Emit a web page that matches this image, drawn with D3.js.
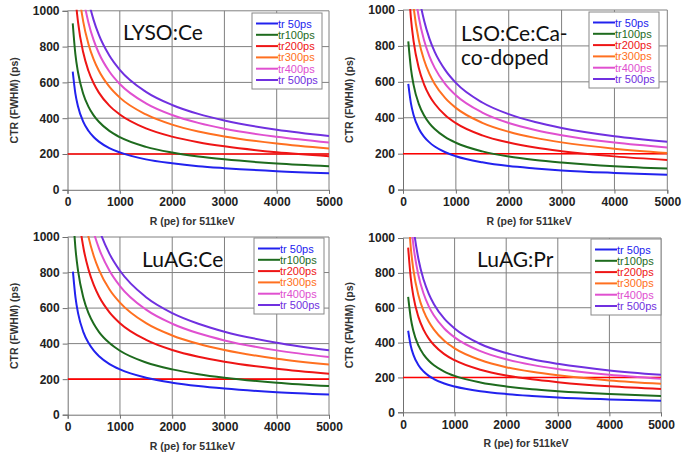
<!DOCTYPE html>
<html>
<head>
<meta charset="utf-8">
<script src="https://cdn.jsdelivr.net/npm/d3@7"></script>
<style>
  body { margin: 0; background: #fff; }
  svg { display: block; }
</style>
</head>
<body>
<script>
// photoelectrons R (pe) for 511keV
const R = [100, 150, 200, 300, 400, 500, 600, 800, 1000, 1500, 2000, 2500, 3000, 4000, 5000];

const series = ["tr 50ps", "tr100ps", "tr200ps", "tr300ps", "tr400ps", "tr 500ps"];
const colors = ["#2222ee", "#1e6b1e", "#ee1515", "#ff7020", "#e050d0", "#7030e0"];

const xTicks = [0, 1000, 2000, 3000, 4000, 5000];
const yTicks = [0, 200, 400, 600, 800, 1000];
const target = 200;

// CTR (FWHM) ps
const lyso = [
  [660, 539, 467, 381, 330, 295, 269, 233, 209, 170, 148, 132, 121, 104, 93],
  [930, 759, 658, 537, 465, 416, 380, 329, 294, 240, 208, 186, 170, 147, 132],
  [1330, 1086, 940, 768, 665, 595, 543, 470, 421, 343, 297, 266, 243, 210, 188],
  [1630, 1331, 1153, 941, 815, 729, 665, 576, 515, 421, 364, 326, 298, 258, 230],
  [1870, 1527, 1322, 1080, 935, 836, 763, 661, 591, 483, 418, 374, 341, 296, 264],
  [2120, 1731, 1499, 1224, 1060, 948, 865, 750, 670, 547, 474, 424, 387, 335, 300]
];
const lsoCa = [
  [588, 480, 416, 339, 294, 263, 240, 208, 186, 152, 131, 118, 107, 93, 83],
  [825, 674, 583, 476, 413, 369, 337, 292, 261, 213, 184, 165, 151, 130, 117],
  [1170, 955, 827, 676, 585, 523, 478, 414, 370, 302, 262, 234, 214, 185, 165],
  [1440, 1176, 1018, 831, 720, 644, 588, 509, 455, 372, 322, 288, 263, 228, 204],
  [1660, 1355, 1174, 958, 830, 742, 678, 587, 525, 429, 371, 332, 303, 262, 235],
  [1880, 1535, 1329, 1085, 940, 841, 767, 665, 594, 485, 420, 376, 343, 297, 266]
];
const luagCe = [
  [805, 657, 569, 465, 403, 360, 329, 285, 255, 208, 180, 161, 147, 127, 114],
  [1140, 931, 806, 658, 570, 510, 465, 403, 360, 294, 255, 228, 208, 180, 161],
  [1630, 1331, 1153, 941, 815, 729, 665, 576, 515, 421, 364, 326, 298, 258, 230],
  [1995, 1629, 1411, 1152, 998, 892, 814, 705, 631, 515, 446, 399, 364, 315, 282],
  [2290, 1870, 1619, 1322, 1145, 1024, 935, 810, 724, 591, 512, 458, 418, 362, 324],
  [2560, 2090, 1810, 1478, 1280, 1145, 1045, 905, 810, 661, 572, 512, 467, 405, 362]
];
const luagPr = [
  [468, 382, 331, 270, 234, 209, 191, 165, 148, 121, 105, 94, 85, 74, 66],
  [662, 541, 468, 382, 331, 296, 270, 234, 209, 171, 148, 132, 121, 105, 94],
  [945, 772, 668, 546, 473, 423, 386, 334, 299, 244, 211, 189, 173, 149, 134],
  [1160, 947, 820, 670, 580, 519, 474, 410, 367, 300, 259, 232, 212, 183, 164],
  [1360, 1110, 962, 785, 680, 608, 555, 481, 430, 351, 304, 272, 248, 215, 192],
  [1520, 1241, 1075, 878, 760, 680, 620, 537, 481, 392, 340, 304, 278, 240, 215]
];

const W = 698, H = 455;
const sans = "'Liberation Sans', Arial, sans-serif";

// plot boxes and title placement for each panel
const panels = [
  {data: lyso,   title: ["LYSO:Ce"],            x0: 67.5, x1: 329,   y0: 10.8, y1: 189.8, tx: 123, ty: 40, lx: 252, ly: 13},
  {data: lsoCa,  title: ["LSO:Ce:Ca-", "co-doped"], x0: 403, x1: 667.3, y0: 10,   y1: 189.6, tx: 461, ty: 41, lx: 589, ly: 12},
  {data: luagCe, title: ["LuAG:Ce"],            x0: 67.7, x1: 329,   y0: 237,  y1: 414.7, tx: 142, ty: 267, lx: 254, ly: 238},
  {data: luagPr, title: ["LuAG:Pr"],            x0: 403, x1: 661,   y0: 238,  y1: 412.3, tx: 477, ty: 267, lx: 591, ly: 239}
];

const svg = d3.select("body").append("svg")
  .attr("width", W)
  .attr("height", H);

panels.forEach((p, pi) => {
  const x = d3.scaleLinear().domain([0, 5000]).range([p.x0, p.x1]);
  const y = d3.scaleLinear().domain([0, 1000]).range([p.y1, p.y0]);
  const g = svg.append("g");

  g.append("clipPath").attr("id", "clip" + pi)
    .append("rect")
    .attr("x", p.x0).attr("y", p.y0 - 1)
    .attr("width", p.x1 - p.x0).attr("height", p.y1 - p.y0 + 1);

  // grid
  g.append("g").selectAll("line")
    .data(xTicks.slice(1)).enter().append("line")
    .attr("x1", d => x(d)).attr("x2", d => x(d))
    .attr("y1", p.y0).attr("y2", p.y1)
    .attr("stroke", "#808080").attr("stroke-width", 1);
  g.append("g").selectAll("line")
    .data(yTicks.slice(1)).enter().append("line")
    .attr("x1", p.x0).attr("x2", p.x1)
    .attr("y1", d => y(d)).attr("y2", d => y(d))
    .attr("stroke", "#808080").attr("stroke-width", 1);

  // axes
  const fmt = d3.format("d");
  const yAxis = d3.axisLeft(y).tickValues(yTicks).tickFormat(fmt).tickSize(5).tickPadding(3);
  const ya = g.append("g").attr("transform", `translate(${p.x0},0)`).call(yAxis);
  const xAxis = d3.axisBottom(x).tickValues(xTicks).tickFormat(fmt).tickSize(4).tickPadding(4);
  const xa = g.append("g").attr("transform", `translate(0,${p.y1})`).call(xAxis);
  [ya, xa].forEach(a => {
    a.attr("font-family", null).attr("font-size", null);
    a.select(".domain").attr("stroke", "#707070");
    a.selectAll(".tick line").attr("stroke", "#707070");
    a.selectAll(".tick text")
      .style("font-family", sans)
      .style("font-weight", "bold")
      .style("font-size", "12px")
      .style("fill", "#222");
  });

  // curves
  const line = d3.line()
    .x((d, i) => x(R[i]))
    .y(d => y(d))
    .curve(d3.curveMonotoneX);

  const curves = g.append("g").attr("clip-path", `url(#clip${pi})`);
  curves.append("line")
    .attr("x1", x(0)).attr("x2", x(5000))
    .attr("y1", y(target)).attr("y2", y(target))
    .attr("stroke", "#ff0000").attr("stroke-width", 1.6);
  curves.selectAll("path")
    .data(p.data).enter().append("path")
    .attr("d", line)
    .attr("fill", "none")
    .attr("stroke", (d, i) => colors[i])
    .attr("stroke-width", 2);

  // axis titles
  g.append("text")
    .attr("x", (p.x0 + p.x1) / 2 - 6)
    .attr("y", p.y1 + 35)
    .attr("text-anchor", "middle")
    .style("font-family", sans).style("font-weight", "bold").style("font-size", "10.5px").style("fill", "#333")
    .text("R (pe) for 511keV");
  g.append("text")
    .attr("transform", `translate(${p.x0 - 50},${(p.y0 + p.y1) / 2}) rotate(-90)`)
    .attr("text-anchor", "middle")
    .style("font-family", sans).style("font-weight", "bold").style("font-size", "10.5px").style("fill", "#333")
    .text("CTR (FWHM) (ps)");

  // panel title
  g.append("text")
    .style("font-family", "Lato, 'Open Sans', sans-serif").style("font-size", "21px").style("fill", "#111")
    .selectAll("tspan").data(p.title).enter().append("tspan")
    .attr("x", p.tx)
    .attr("y", (d, i) => p.ty + i * 24)
    .text(d => d);

  // legend
  const lg = g.append("g")
    .attr("transform", `translate(${p.lx},${p.ly})`);
  lg.append("rect")
    .attr("width", 70).attr("height", 76)
    .attr("fill", "#fff").attr("stroke", "#888").attr("stroke-width", 1);
  const item = lg.selectAll("g").data(series).enter().append("g")
    .attr("transform", (d, i) => `translate(0,${10.5 + i * 11.3})`);
  item.append("line")
    .attr("x1", 4).attr("x2", 26).attr("y1", 0).attr("y2", 0)
    .attr("stroke", (d, i) => colors[i]).attr("stroke-width", 2);
  item.append("text")
    .attr("x", 26).attr("y", 4)
    .style("font-family", sans).style("font-size", "11px")
    .style("fill", (d, i) => colors[i])
    .text(d => d);
});
</script>
</body>
</html>
